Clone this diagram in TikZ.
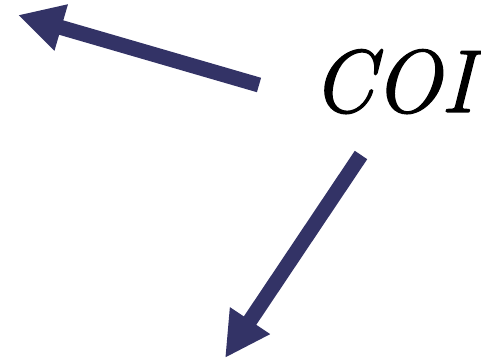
\documentclass[tikz,border=0pt]{standalone}
\usepackage{fontspec}
\setmainfont{Latin Modern Roman}[ItalicFeatures={FakeBold=1.5}]
\usetikzlibrary{arrows.meta}
\definecolor{navy}{RGB}{51,51,102}
\tikzset{
  bigarrow/.style={draw=navy, line width=15pt, line cap=butt,
    -{Triangle[length=45pt,width=45pt,fill=navy]}},
  coitext/.style={inner sep=0pt, anchor=base, font=\fontsize{89}{89}\selectfont\itshape}
}
\begin{document}
\begin{tikzpicture}[x=1pt,y=-1pt]
\useasboundingbox (0,0) rectangle (481,361);
\node[coitext] (coi) at (393,112) {COI};
\coordinate (s1) at (259,85);
\coordinate (t1) at (18,15);
\coordinate (s2) at (361,155);
\coordinate (t2) at (225,358);
\draw[bigarrow] (s1) -- (t1);
\draw[bigarrow] (s2) -- (t2);
\end{tikzpicture}
\end{document}
